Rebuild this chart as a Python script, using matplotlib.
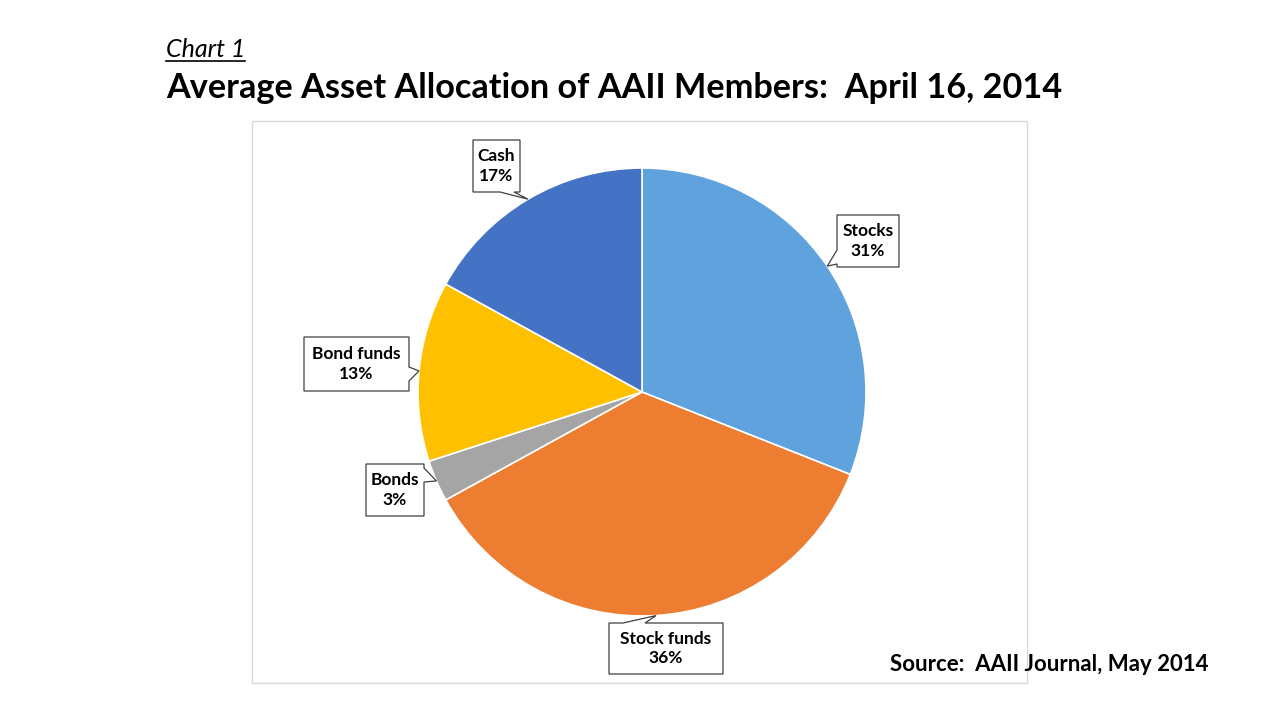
import matplotlib
matplotlib.use("Agg")
import matplotlib.pyplot as plt
import numpy as np
from matplotlib.patches import Rectangle, Polygon
from matplotlib.lines import Line2D

labels = ["Stocks", "Stock funds", "Bonds", "Bond funds", "Cash"]
shares = [31, 36, 3, 13, 17]
colors = ["#5FA2DD", "#ED7D31", "#A5A5A5", "#FFC000", "#4472C4"]

# callout boxes in pixels: (left, top, right, bottom), side the pointer leaves from, base span on that side
boxes = {
    "Stocks": ((837, 215, 899, 267), "left", (250, 264)),
    "Stock funds": ((609, 623, 723, 674), "top", (623, 645)),
    "Bonds": ((366, 464, 424, 516), "right", (468, 482)),
    "Bond funds": ((304, 337, 409, 391), "right", (367, 381)),
    "Cash": ((473, 140, 520, 192), "bottom", (500, 514)),
}

W, H = 1280, 720
plt.rcParams['font.family'] = ['Lato', 'DejaVu Sans']
fig = plt.figure(figsize=(W / 100, H / 100), dpi=100)
fig.patch.set_facecolor("white")

# chart area frame
fig.patches.append(Rectangle((252 / W, 1 - 683 / H), (1027 - 252) / W, (683 - 121) / H,
                             transform=fig.transFigure, fill=False, edgecolor="#D9D9D9", lw=1))

cx, cy, r = 642, 392, 224
ax = fig.add_axes([(cx - r) / W, 1 - (cy + r) / H, 2 * r / W, 2 * r / H])
wedges, _ = ax.pie(shares, colors=colors, startangle=90, counterclock=False, radius=1,
                   wedgeprops=dict(edgecolor="white", linewidth=1.2))
ax.set_xlim(-1, 1)
ax.set_ylim(-1, 1)
ax.set_aspect("equal")
ax.axis("off")


def px(x, y):
    return ((x - cx) / r, (cy - y) / r)


for w, lab, val in zip(wedges, labels, shares):
    mid = np.deg2rad((w.theta1 + w.theta2) / 2)
    tip = (np.cos(mid), np.sin(mid))
    (x0, y0, x1, y1), side, (a, b) = boxes[lab]
    if side == "left":
        verts = [px(x0, y0), px(x1, y0), px(x1, y1), px(x0, y1), px(x0, b), tip, px(x0, a)]
    elif side == "right":
        verts = [px(x0, y0), px(x1, y0), px(x1, a), tip, px(x1, b), px(x1, y1), px(x0, y1)]
    elif side == "top":
        verts = [px(x0, y0), px(a, y0), tip, px(b, y0), px(x1, y0), px(x1, y1), px(x0, y1)]
    else:
        verts = [px(x0, y0), px(x1, y0), px(x1, y1), px(b, y1), tip, px(a, y1), px(x0, y1)]
    ax.add_patch(Polygon(verts, closed=True, facecolor="white", edgecolor="#404040",
                         lw=0.9, clip_on=False, zorder=5))
    tx, ty = px((x0 + x1) / 2, (y0 + y1) / 2)
    ax.text(tx, ty, f"{lab}\n{val}%", ha="center", va="center", fontsize=12.5,
            fontweight="bold", linespacing=1.3, zorder=6)

fig.text(166 / W, 1 - 57 / H, "Chart 1", fontsize=18, style="italic", ha="left", va="baseline")
fig.add_artist(Line2D([166 / W, 245 / W], [1 - 61 / H, 1 - 61 / H], color="black", lw=1.2))
fig.text(166 / W, 1 - 98 / H, "Average Asset Allocation of AAII Members:  April 16, 2014",
         fontsize=24.7, fontweight="bold", ha="left", va="baseline")
fig.text(1208 / W, 1 - 671 / H, "Source:  AAII Journal, May 2014", fontsize=16,
         fontweight="bold", ha="right", va="baseline")

fig.savefig("out.png", dpi=100)
